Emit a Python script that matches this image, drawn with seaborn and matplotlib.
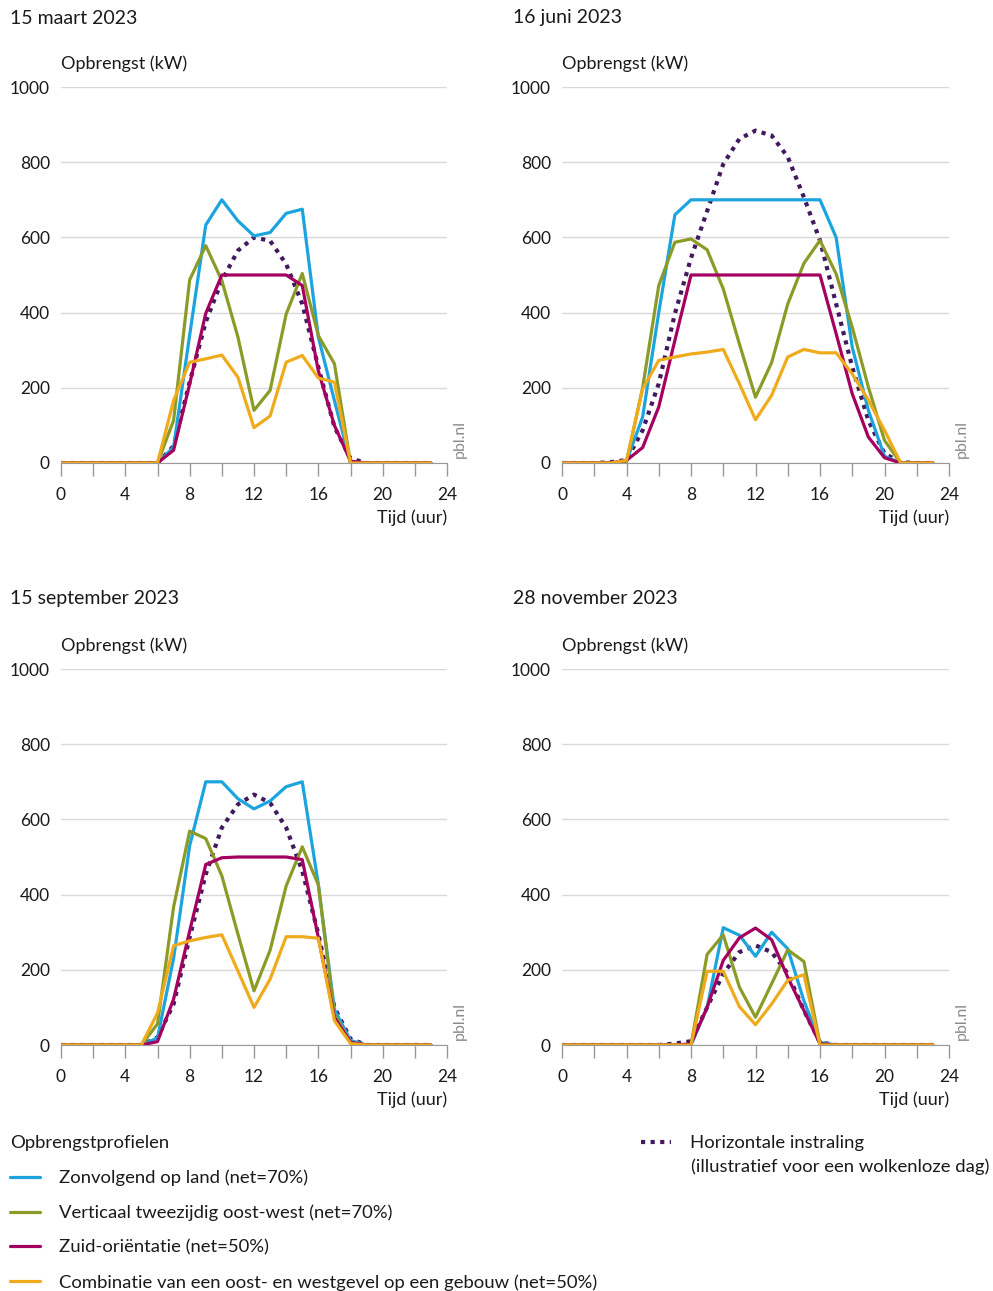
import matplotlib
matplotlib.use('Agg')
import matplotlib.pyplot as plt
import seaborn as sns
from matplotlib.lines import Line2D
from matplotlib.ticker import MultipleLocator

hours = list(range(24))

# 15 maart 2023
maart_zonvolgend = [0, 0, 0, 0, 0, 0, 0, 42, 340, 633, 700, 644, 604, 613, 664, 675, 335, 166, 0, 0, 0, 0, 0, 0]
maart_verticaal = [0, 0, 0, 0, 0, 0, 0, 113, 487, 578, 485, 335, 140, 193, 396, 504, 339, 264, 0, 0, 0, 0, 0, 0]
maart_zuid = [0, 0, 0, 0, 0, 0, 0, 34, 210, 398, 500, 500, 500, 500, 500, 472, 245, 100, 5, 0, 0, 0, 0, 0]
maart_combinatie = [0, 0, 0, 0, 0, 0, 0, 166, 268, 277, 287, 228, 94, 125, 268, 286, 226, 215, 0, 0, 0, 0, 0, 0]
maart_horizontaal = [0, 0, 0, 0, 0, 0, 0, 45, 215, 375, 485, 565, 600, 591, 529, 423, 255, 96, 12, 0, 0, 0, 0, 0]

# 16 juni 2023
juni_zonvolgend = [0, 0, 0, 0, 5, 122, 400, 660, 700, 700, 700, 700, 700, 700, 700, 700, 700, 600, 308, 140, 18, 0, 0, 0]
juni_verticaal = [0, 0, 0, 0, 3, 200, 472, 587, 596, 567, 463, 317, 175, 267, 423, 531, 592, 503, 361, 202, 60, 0, 0, 0]
juni_zuid = [0, 0, 0, 0, 7, 41, 149, 326, 500, 500, 500, 500, 500, 500, 500, 500, 500, 344, 184, 69, 14, 0, 0, 0]
juni_combinatie = [0, 0, 0, 0, 7, 197, 273, 282, 290, 295, 302, 211, 115, 180, 282, 302, 293, 293, 237, 167, 87, 0, 0, 0]
juni_horizontaal = [0, 0, 0, 2, 8, 87, 211, 397, 545, 670, 795, 862, 884, 871, 814, 707, 592, 423, 255, 113, 25, 2, 0, 0]

# 15 september 2023
sept_zonvolgend = [0, 0, 0, 0, 0, 0, 19, 230, 530, 700, 700, 655, 628, 649, 687, 700, 427, 95, 12, 0, 0, 0, 0, 0]
sept_verticaal = [0, 0, 0, 0, 0, 0, 56, 367, 569, 549, 450, 295, 144, 252, 423, 527, 426, 82, 7, 0, 0, 0, 0, 0]
sept_zuid = [0, 0, 0, 0, 0, 0, 9, 122, 303, 480, 498, 500, 500, 500, 500, 493, 286, 73, 7, 0, 0, 0, 0, 0]
sept_combinatie = [0, 0, 0, 0, 0, 0, 85, 264, 277, 286, 293, 197, 100, 175, 288, 288, 284, 65, 4, 0, 0, 0, 0, 0]
sept_horizontaal = [0, 0, 0, 0, 0, 0, 20, 109, 286, 454, 578, 640, 666, 644, 578, 463, 295, 100, 16, 0, 0, 0, 0, 0]

# 28 november 2023
nov_zonvolgend = [0, 0, 0, 0, 0, 0, 0, 0, 0, 100, 312, 292, 236, 300, 256, 118, 7, 0, 0, 0, 0, 0, 0, 0]
nov_verticaal = [0, 0, 0, 0, 0, 0, 0, 0, 0, 241, 293, 154, 74, 163, 253, 222, 3, 0, 0, 0, 0, 0, 0, 0]
nov_zuid = [0, 0, 0, 0, 0, 0, 0, 0, 3, 100, 225, 285, 311, 280, 180, 92, 3, 0, 0, 0, 0, 0, 0, 0]
nov_combinatie = [0, 0, 0, 0, 0, 0, 0, 0, 0, 196, 196, 102, 54, 109, 172, 187, 0, 0, 0, 0, 0, 0, 0, 0]
nov_horizontaal = [0, 0, 0, 0, 0, 0, 0, 4, 10, 100, 190, 247, 265, 247, 190, 92, 7, 0, 0, 0, 0, 0, 0, 0]

titles = ['15 maart 2023', '16 juni 2023', '15 september 2023', '28 november 2023']
profile_labels = ['Zonvolgend op land (net=70%)',
                  'Verticaal tweezijdig oost-west (net=70%)',
                  'Zuid-oriëntatie (net=50%)',
                  'Combinatie van een oost- en westgevel op een gebouw (net=50%)']
horizontal_label = 'Horizontale instraling'
horizontal_note = '(illustratief voor een wolkenloze dag)'

panels = [
    (maart_zonvolgend, maart_verticaal, maart_zuid, maart_combinatie, maart_horizontaal),
    (juni_zonvolgend, juni_verticaal, juni_zuid, juni_combinatie, juni_horizontaal),
    (sept_zonvolgend, sept_verticaal, sept_zuid, sept_combinatie, sept_horizontaal),
    (nov_zonvolgend, nov_verticaal, nov_zuid, nov_combinatie, nov_horizontaal),
]

colors = ['#1ba4dd', '#8c9a28', '#a4005f', '#efab1c']
purple = '#42195f'
text_col = '#1a1a1a'
dots = (0, (1, 1.3))

sns.set_style('white')
plt.rcParams['font.family'] = ['Lato', 'DejaVu Sans']

W, H = 993, 1291
fig = plt.figure(figsize=(W / 100, H / 100), dpi=100)

# axes boxes in pixels: left, top(y=1000), right, bottom(y=0)
boxes = [(61, 87, 447, 463), (562, 87, 949, 463),
         (61, 669, 447, 1045), (562, 669, 949, 1045)]
title_pos = [(10, 18), (513, 18), (10, 599), (513, 599)]

for i, (box, series) in enumerate(zip(boxes, panels)):
    l, t, r, b = box
    ax = fig.add_axes([l / W, 1 - b / H, (r - l) / W, (b - t) / H])
    zon, vert, zuid, comb, hor = series
    sns.lineplot(x=hours, y=hor, ax=ax, color=purple, lw=3.0,
                 linestyle=dots, zorder=3)
    for vals, c in zip([zon, vert, zuid, comb], colors):
        sns.lineplot(x=hours, y=vals, ax=ax, color=c, lw=2.3, zorder=4)

    ax.set_xlim(0, 24)
    ax.set_ylim(0, 1000)
    ax.xaxis.set_major_locator(MultipleLocator(4))
    ax.xaxis.set_minor_locator(MultipleLocator(2))
    ax.yaxis.set_major_locator(MultipleLocator(200))
    ax.grid(axis='y', color='#d9d9d9', lw=1)
    ax.grid(axis='x', visible=False)
    for s in ['top', 'right', 'left']:
        ax.spines[s].set_visible(False)
    ax.spines['bottom'].set_color('#999999')
    ax.spines['bottom'].set_zorder(5)
    ax.tick_params(axis='x', which='both', direction='out', length=9,
                   width=1, color='#999999', bottom=True)
    ax.tick_params(axis='x', which='major', labelsize=12.5, pad=8,
                   labelcolor=text_col)
    ax.tick_params(axis='y', length=0, labelsize=12.5, pad=8,
                   labelcolor=text_col)
    ax.set_xlabel('')
    ax.set_ylabel('')
    ax.text(0, 1.062, 'Opbrengst (kW)', transform=ax.transAxes,
            ha='left', va='center', fontsize=13, color=text_col)
    ax.text(1.0, -0.146, 'Tijd (uur)', transform=ax.transAxes,
            ha='right', va='center', fontsize=13, color=text_col)
    ax.text(1.034, 0.012, 'pbl.nl', transform=ax.transAxes, rotation=90,
            ha='center', va='bottom', fontsize=11.5, color='#8a8a8a')

    tx, ty = title_pos[i]
    fig.text(tx / W, 1 - ty / H, titles[i], ha='left', va='center',
             fontsize=14, color=text_col)

handles = [Line2D([], [], color=c, lw=2.3) for c in colors]
leg = fig.legend(handles, profile_labels, title='Opbrengstprofielen',
                 loc='upper left', bbox_to_anchor=(10 / W, 1 - 1135 / H),
                 frameon=False, fontsize=13.3, title_fontsize=13.3,
                 handlelength=1.65, handletextpad=1.0, labelspacing=1.0,
                 borderpad=0, borderaxespad=0, alignment='left')
for t in leg.get_texts():
    t.set_color(text_col)
leg.get_title().set_color(text_col)

leg2 = fig.legend([Line2D([], [], color=purple, lw=3.0, linestyle=dots)],
                  [horizontal_label], loc='upper left',
                  bbox_to_anchor=(641 / W, 1 - 1135 / H), frameon=False,
                  fontsize=13.3, handlelength=1.65, handletextpad=1.0,
                  borderpad=0, borderaxespad=0)
for t in leg2.get_texts():
    t.set_color(text_col)
fig.text(691 / W, 1 - 1167 / H, horizontal_note, ha='left', va='center',
         fontsize=13.3, color=text_col)

fig.savefig('out.png', dpi=100)
